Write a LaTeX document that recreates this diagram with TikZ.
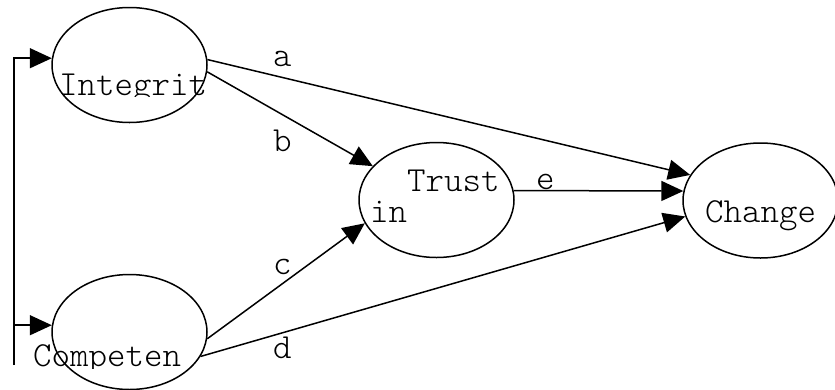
\documentclass[tikz,border=0pt]{standalone}
\usepackage{fontspec}
\newfontfamily\lightmono{Latin Modern Mono Light}
\usetikzlibrary{shapes.geometric,arrows.meta}
\begin{document}
\begin{tikzpicture}[
        x=1pt, y=-1pt,
        factor/.style={ellipse, draw, line width=1.5pt, minimum width=155pt, minimum height=115pt, inner sep=0pt},
        lbl/.style={anchor=base west, inner sep=0pt, font=\lightmono\fontsize{35.2}{40}\selectfont},
        link/.style={-{Triangle[length=22pt,width=20pt]}, line width=1.5pt}
    ]
    \useasboundingbox (0,0) rectangle (835,389);
    % factors
    \node[factor] (int) at (129.5,65) {};
    \node[factor] (comp) at (129.5,332) {};
    \node[factor] (trust) at (436.5,200) {};
    \node[factor] (chg) at (760.5,200.5) {};
    % texts
    \begin{scope}
        \clip (0,0) rectangle (835,96);
        \node[lbl] (intx) at (59,95) {Integrit};
    \end{scope}
    \begin{scope}
        \clip (0,0) rectangle (835,368);
        \node[lbl] (compx) at (33,366) {Competen};
    \end{scope}
    \node[lbl] (trustx) at (407,191) {Trust};
    \node[lbl] (inx) at (370,222) {in};
    \node[lbl] (chgx) at (705,222) {Change};
    % paths
    \draw[link] (int.4) -- (chg.160);
    \draw[link] (int.-5) -- (trust.152);
    \draw[link] (comp.-5) -- (trust.198);
    \draw[link] (comp.-19) -- (chg.192);
    \draw[link] (trust.7) -- (chg.173);
    \node[lbl] (a) at (273,66) {a};
    \node[lbl] (b) at (273,151) {b};
    \node[lbl] (c) at (273,274) {c};
    \node[lbl] (d) at (273,358) {d};
    \node[lbl] (e) at (536,189) {e};
    % covariance
    \coordinate (bus) at (14,365);
    \draw[link] (bus) |- (int.175);
    \draw[link] (bus |- comp.175) -- (comp.175);
\end{tikzpicture}
\end{document}
